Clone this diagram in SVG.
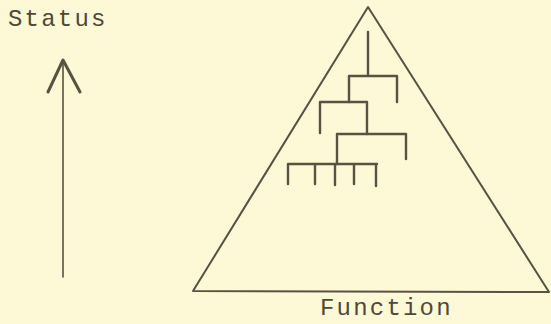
<svg xmlns="http://www.w3.org/2000/svg" width="551" height="324" viewBox="0 0 551 324">
<style>
.ln{fill:none;stroke:#5a5140;stroke-linecap:round;stroke-linejoin:round}
.t{font-family:"Liberation Mono","DejaVu Sans Mono",monospace;font-size:24px;letter-spacing:2.2px;fill:#4f4838}
</style>
<rect width="551" height="324" fill="#fdf9d6"/>
<g id="status-label"><text class="t" x="8" y="26">Status</text></g>
<g id="function-label"><text class="t" x="320" y="315">Function</text></g>
<g id="pyramid"><path class="ln" stroke-width="2" d="M368,7 L193,291 L549,292 Z"/></g>
<g id="connectors">
<path class="ln" stroke-width="1.6" d="M63,62 L63,277"/>
<path class="ln" stroke-width="3" d="M48,92 L63,60 L80,92"/>
<g stroke-width="2.4" class="ln">
<path class="ln" d="M368,32 L368,76 M349,76 L397,76 L397,102 M349,76 L349,102"/>
<path class="ln" d="M320,102 L367,102 L367,134 M320,102 L320,133"/>
<path class="ln" d="M337,134 L406,134 L406,159 M337,134 L337,164"/>
<path class="ln" d="M288,164 L377,164 M288,164 L288,184 M315,164 L315,184 M335,164 L335,185 M354,164 L354,184 M376,164 L376,186"/>
</g>
</g>
</svg>
